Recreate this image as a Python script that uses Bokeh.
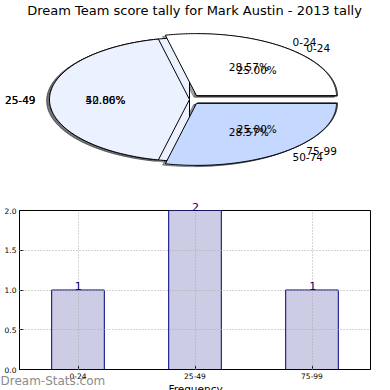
import numpy as np
from bokeh.plotting import figure
from bokeh.models import (ColumnDataSource, Label, LabelSet, FixedTicker,
                          PrintfTickFormatter, Range1d, FactorRange)
from bokeh.embed import file_html
from bokeh.resources import INLINE
from bokeh.core.properties import value

# ---------------- data ----------------
title_text = "Dream Team score tally for Mark Austin - 2013 tally"

# first pie (drawn underneath)
pie_b_labels = ["0-24", "25-49", "75-99"]
pie_b_values = [1, 2, 1]
# second pie (drawn on top)
pie_a_labels = ["0-24", "25-49", "50-74"]
pie_a_values = [2, 3, 2]

pie_colors = ["#FFFFFF", "#EBF1FE", "#C5D8FF"]
pie_explode = [0.08, 0.0, 0.08]

bar_categories = ["0-24", "25-49", "75-99"]
bar_counts = [1, 2, 1]
y_ticks = [0.0, 0.5, 1.0, 1.5, 2.0]
y_max = 2.0

FONT_NAME = "DejaVu Sans"
FONT = value(FONT_NAME)

# ---------------- pie figure ----------------
W, H1 = 390, 195
CX, CY, RX, RY = 189.0, 99.0, 140.0, 62.0   # pixel geometry of the ellipse

p1 = figure(width=W, height=H1, output_backend="svg", toolbar_location=None,
            x_range=Range1d(-CX / RX, (W - CX) / RX),
            y_range=Range1d(-(H1 - CY) / RY, CY / RY),
            x_axis_type=None, y_axis_type=None, min_border=0,
            styles={"position": "absolute", "left": "0px", "top": "0px"})
p1.grid.visible = False
p1.outline_line_color = None


def pie_geometry(values, explode):
    vals = np.asarray(values, dtype=float)
    frac = vals / vals.sum()
    bounds = np.concatenate([[0.0], np.cumsum(frac)]) * 2 * np.pi
    xs, ys, lab, pct = [], [], [], []
    for i in range(len(vals)):
        t1, t2 = bounds[i], bounds[i + 1]
        tm = 0.5 * (t1 + t2)
        ox, oy = explode[i] * np.cos(tm), explode[i] * np.sin(tm)
        th = np.linspace(t1, t2, 150)
        xs.append(np.concatenate([[ox], ox + np.cos(th), [ox]]))
        ys.append(np.concatenate([[oy], oy + np.sin(th), [oy]]))
        lab.append((ox + 1.1 * np.cos(tm), oy + 1.1 * np.sin(tm)))
        pct.append((ox + 0.6 * np.cos(tm), oy + 0.6 * np.sin(tm), 100 * frac[i]))
    return xs, ys, lab, pct


def shade(hexcol):
    h = hexcol.lstrip("#")
    r, g, b = (int(h[k:k + 2], 16) for k in (0, 2, 4))
    return "#%02x%02x%02x" % (int(0.3 * r), int(0.3 * g), int(0.3 * b))


pies = [(pie_b_labels, pie_b_values), (pie_a_labels, pie_a_values)]
geoms = [pie_geometry(v, pie_explode) for _, v in pies]

# shadows first (below every wedge)
for xs, ys, _, _ in geoms:
    p1.patches([x - 0.02 for x in xs], [y - 0.02 for y in ys],
               fill_color=[shade(c) for c in pie_colors],
               line_color=[shade(c) for c in pie_colors],
               fill_alpha=0.5, line_alpha=0.5)
# wedges
for xs, ys, _, _ in geoms:
    p1.patches(xs, ys, fill_color=pie_colors, line_color="black",
               line_width=1, line_join="miter")

# texts
for (labels, _), (_, _, lab, pct) in zip(pies, geoms):
    left = dict(x=[], y=[], t=[])
    right = dict(x=[], y=[], t=[])
    for name, (lx, ly) in zip(labels, lab):
        d = left if lx > 0 else right
        d["x"].append(lx); d["y"].append(ly); d["t"].append(name)
    p1.text(x=left["x"], y=left["y"], text=left["t"], text_align="left",
            text_baseline="middle", text_font=FONT, text_font_size="10.5px",
            text_color="black")
    p1.text(x=right["x"], y=right["y"], text=right["t"], text_align="right",
            text_baseline="middle", text_font=FONT, text_font_size="10.5px",
            text_color="black")
    p1.text(x=[q[0] for q in pct], y=[q[1] for q in pct],
            text=["%.2f%%" % q[2] for q in pct], text_align="center",
            text_baseline="middle", text_font=FONT, text_font_size="10.5px",
            text_color="black")

p1.add_layout(Label(x=(194 - CX) / RX, y=(CY - 10) / RY, text=title_text,
                    text_align="center", text_baseline="middle",
                    text_font=FONT_NAME, text_font_size="13px",
                    text_color="black"))

# ---------------- bar figure ----------------
H2 = 195
BL, BR, BT, BB = 19, 20, 15, 21          # borders around the bar frame
PXU = (H2 - BT - BB) / y_max             # pixels per count
PXC = (W - BL - BR) / len(bar_categories)  # pixels per category

p2 = figure(width=W, height=H2, output_backend="svg", toolbar_location=None,
            x_range=FactorRange(factors=bar_categories, range_padding=0),
            y_range=Range1d(0, y_max), min_border_left=BL,
            min_border_right=BR, min_border_top=BT, min_border_bottom=BB,
            styles={"position": "absolute", "left": "0px", "top": "195px"})
p2.outline_line_color = "black"
p2.outline_line_alpha = 1

src = ColumnDataSource(dict(cat=bar_categories, n=bar_counts,
                            txt=[str(c) for c in bar_counts]))
p2.vbar(x="cat", top="n", width=0.45, source=src, fill_color="#CCCCE5",
        line_color="#000080", line_width=1)

for ax in (p2.xaxis, p2.yaxis):
    ax.major_tick_in = 4
    ax.major_tick_out = 0
    ax.minor_tick_line_color = None
    ax.axis_line_color = "black"
    ax.major_tick_line_color = "black"
    ax.major_label_text_font = FONT_NAME
    ax.major_label_text_font_size = "7.5px"
    ax.major_label_text_color = "black"
    ax.major_label_standoff = 3
p2.yaxis.ticker = FixedTicker(ticks=y_ticks)
p2.yaxis.formatter = PrintfTickFormatter(format="%.1f")

p2.grid.grid_line_color = "#aaaaaa"
p2.grid.grid_line_dash = "1 2"
p2.grid.grid_line_width = 1
p2.grid.level = "overlay"
p2.ygrid.ticker = FixedTicker(ticks=y_ticks)

# ---------------- transparent overlay for texts outside the bar frame -------
pad = BL / PXC
p3 = figure(width=W, height=H2, output_backend="svg", toolbar_location=None,
            x_range=FactorRange(factors=bar_categories, range_padding=pad,
                                range_padding_units="absolute"),
            y_range=Range1d(-BB / PXU, y_max + BT / PXU),
            x_axis_type=None, y_axis_type=None, min_border=0,
            styles={"position": "absolute", "left": "0px", "top": "195px"})
p3.grid.visible = False
p3.outline_line_color = None
p3.background_fill_color = None
p3.border_fill_color = None

p3.text(x="cat", y="n", text="txt", source=src, text_align="center",
        text_baseline="bottom", text_font=FONT, text_font_size="11px",
        text_color="#000080")

p3.add_layout(Label(x=-pad, y=-11 / PXU, text="Dream-Stats.com",
                    text_align="left", text_baseline="middle",
                    text_font=FONT_NAME, text_font_size="12px",
                    text_color="#8c8c8c"))
p3.add_layout(Label(x=len(bar_categories) / 2, y=-13 / PXU, text="Frequency",
                    text_align="center", text_baseline="top",
                    text_font=FONT_NAME, text_font_size="10.5px",
                    text_color="black"))

open("out.html", "w").write(file_html([p1, p2, p3], INLINE))
